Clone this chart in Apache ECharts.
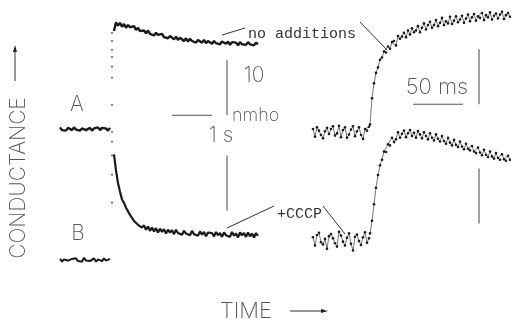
<!DOCTYPE html>
<html><head><meta charset="utf-8">
<script src="https://cdn.jsdelivr.net/npm/echarts@6/dist/echarts.min.js"></script>
<style>html,body{margin:0;padding:0;background:#fff}#c{width:511px;height:320px}</style>
</head><body><div id="c"></div>
<script>
// ---- Slow traces (left), time in s, conductance in nmho ----
const slowStep = 0.05;                 // s between samples
const slowBaseStart = 0;               // s
const slowJumpTime = 1.3;              // s
const slowDecayStart = 1.35;           // s
const traceA_slowBase = [0.3,-0.2,0.1,-0.3,0.2,0.0,-0.2,0.3,-0.1,0.2,-0.3,0.1,0.3,-0.2,0.0,0.2,-0.3,0.1,-0.1,0.3,-0.2,0.2,-0.1,0.1,-0.3,0.2];
const traceA_slowJump = [4.4,9.3,11.3,13.1,14.4,16.0,17.5];
const traceA_slowDecay = [17.8,19.4,18.8,19.3,18.6,19.1,18.4,18.9,18.5,18.3,18.7,18.0,18.4,17.8,18.1,17.9,17.4,17.9,17.3,17.6,17.0,17.5,17.1,16.9,17.3,16.7,17.0,16.5,16.9,16.6,16.3,16.8,16.2,16.6,16.3,16.0,16.5,15.9,16.4,16.0,16.2,15.7,16.2,15.9,15.7,16.2,15.6,16.0,15.7,15.5,16.0,15.6,15.9,15.4,15.9,15.7,15.5,15.9,15.3,15.8,15.5,15.7,15.2,15.8,15.4,15.6,15.3,15.8,15.4,15.6,15.2,15.7,15.4];
const traceB_slowBase = [0.2,-0.3,0.1,0.3,-0.1,-0.4,0.2,0.0,0.3,-0.2,0.1,-0.3,0.4,-0.1,0.2,-0.2,0.0,0.3,-0.3,0.1,0.2,-0.2,0.3,-0.1,0.0,0.2];
const traceB_slowJump = [10.4,15.5,19.0,21.5,23.3];
const traceB_slowDecay = [19.2,16.3,14.0,12.4,11.0,10.4,9.5,9.2,8.2,7.9,7.1,7.2,6.4,6.6,5.9,6.3,5.5,6.1,5.3,5.9,5.2,5.8,5.0,5.7,5.1,5.6,4.8,5.5,5.0,5.4,4.7,5.5,4.9,5.2,4.6,5.3,4.8,5.1,4.5,5.3,4.7,5.0,4.4,5.2,4.6,5.1,4.3,5.0,4.7,4.9,4.3,5.1,4.5,4.9,4.2,5.0,4.5,4.8,4.2,5.1,4.4,4.8,4.1,5.0,4.5,4.9,4.2,5.0,4.3,4.8,4.1,4.9,4.4];

// ---- Fast traces (right), time in ms ----
const fastStep = 2;                    // ms
const fastBaseStart = 3;               // ms
const fastRiseStart = 60;              // ms
const traceA_fastBase = [0.0,-1.4,0.3,-0.3,-1.1,-1.7,-0.4,0.2,-0.9,0.0,0.5,-1.2,-0.8,0.6,-1.5,-0.2,0.3,-1.6,-1.0,-0.1,0.5,-1.3,-0.4,0.3,-1.1,-1.8,0.0,-0.3,0.4];
const traceA_fastRise = [0.8,5.6,8.3,10.2,11.2,12.6,13.0,14.1,13.9,15.0,14.6,15.8,16.0,15.2,16.9,16.4,16.8,17.5,16.7,17.9,17.2,18.3,17.6,17.9,18.7,17.6,18.4,19.2,18.1,18.9,19.5,18.4,18.9,19.8,18.7,19.3,20.2,18.9,19.6,19.2,20.4,19.1,19.7,20.5,19.4,19.9,20.6,19.3,20.1,20.8,19.6,20.3,20.9,19.7,20.5,20.2,21.1,19.8,20.7,20.3,21.2,19.9,20.6,21.0,20.1,20.8,21.3,20.0,20.7,21.1,20.4];
const traceB_fastBase = [0.5,-1.0,0.9,1.3,-0.4,-0.8,0.2,-1.6,0.7,1.1,0.3,-0.6,-1.2,1.5,0.8,-0.3,-1.0,0.4,1.2,-0.7,-1.9,0.6,1.0,-0.2,-0.9,0.5,1.4,-0.5,0.3];
const traceB_fastRise = [1.2,3.5,6.5,9.5,11.8,13.6,14.6,16.1,16.0,17.4,17.2,18.6,17.8,18.3,19.6,18.6,19.3,19.9,18.7,19.4,20.0,18.9,19.5,18.6,19.8,19.2,18.5,19.6,18.9,18.3,19.4,18.6,18.1,19.2,18.4,17.9,18.9,18.0,17.5,18.6,17.7,17.2,18.2,17.3,16.9,17.9,17.0,16.5,17.5,16.6,16.3,17.1,16.1,15.8,16.8,15.9,15.4,16.4,15.5,15.1,16.1,15.2,14.8,15.8,14.9,14.6,15.6,14.7,14.4,15.3,14.6];

// ---- Scale bars ----
const scaleNmho = 10;
const scaleSlowS = 1;
const scaleFastMs = 50;

function seq(t0, dt, vals){ return vals.map((v,i)=>[+(t0+i*dt).toFixed(4), v]); }
function at(t, vals){ return vals.map(v=>[t, v]); }

const ink = '#1a1a1a', grey = '#555';
const fontBig = '200 21px Inter';
const fontMono = '400 15px "Liberation Mono"';

function traceLine(xi, data, w, sym){
  return {type:'line', xAxisIndex:xi, yAxisIndex:xi, data:data, clip:false, animation:false,
    showSymbol:!!sym, symbol:'circle', symbolSize:sym||0,
    itemStyle:{color:ink}, lineStyle:{color:ink, width:w}};
}
function dots(xi, data){
  return {type:'scatter', xAxisIndex:xi, yAxisIndex:xi, data:data, clip:false, animation:false,
    symbolSize:2, itemStyle:{color:'#333'}};
}
function bar(xi, p1, p2){
  return {type:'line', xAxisIndex:xi, yAxisIndex:xi, data:[p1,p2], clip:false, animation:false,
    showSymbol:false, lineStyle:{color:grey, width:1.1}};
}

const chart = echarts.init(document.getElementById('c'), null, {renderer:'canvas'});
const hid = {show:false};
chart.setOption({
  backgroundColor:'#fff',
  animation:false,
  grid:[
    {left:60, width:200, top:8, height:132},
    {left:60, width:200, top:117, height:154},
    {left:310, width:200, top:8, height:132},
    {left:310, width:200, top:119, height:132}
  ],
  xAxis:[
    Object.assign({type:'value', gridIndex:0, min:0, max:5}, hid),
    Object.assign({type:'value', gridIndex:1, min:0, max:5}, hid),
    Object.assign({type:'value', gridIndex:2, min:0, max:200}, hid),
    Object.assign({type:'value', gridIndex:3, min:0, max:200}, hid)
  ],
  yAxis:[
    Object.assign({type:'value', gridIndex:0, min:-2, max:22}, hid),
    Object.assign({type:'value', gridIndex:1, min:-2, max:26}, hid),
    Object.assign({type:'value', gridIndex:2, min:-2, max:22}, hid),
    Object.assign({type:'value', gridIndex:3, min:-2, max:22}, hid)
  ],
  series:[
    traceLine(0, seq(slowBaseStart, slowStep, traceA_slowBase), 2.4),
    dots(0, at(slowJumpTime, traceA_slowJump)),
    traceLine(0, seq(slowDecayStart, slowStep, traceA_slowDecay), 2.4),
    traceLine(1, seq(slowBaseStart, slowStep, traceB_slowBase), 2.0),
    dots(1, at(slowJumpTime, traceB_slowJump)),
    traceLine(1, seq(slowDecayStart, slowStep, traceB_slowDecay), 2.2),
    traceLine(2, seq(fastBaseStart, fastStep, traceA_fastBase), 0.6, 2.6),
    traceLine(2, seq(fastRiseStart, fastStep, traceA_fastRise), 0.6, 2.6),
    traceLine(3, seq(fastBaseStart, fastStep, traceB_fastBase), 0.6, 2.6),
    traceLine(3, seq(fastRiseStart, fastStep, traceB_fastRise), 0.6, 2.6),
    // scale bars
    bar(0, [4.175, 2.5], [4.175, 2.5+scaleNmho]),
    bar(0, [2.8, 2.5], [2.8+scaleSlowS, 2.5]),
    bar(1, [4.175, 9], [4.175, 9+scaleNmho]),
    bar(2, [169, 4.5], [169, 4.5+scaleNmho]),
    bar(2, [103, 4.5], [103+scaleFastMs, 4.5]),
    bar(3, [169, 3], [169, 3+scaleNmho])
  ],
  graphic:[
    {type:'text', x:77, y:105, style:{text:'A', font:fontBig, fill:grey, align:'center', verticalAlign:'middle'}},
    {type:'text', x:78, y:234, style:{text:'B', font:fontBig, fill:grey, align:'center', verticalAlign:'middle'}},
    {type:'text', x:254, y:76, style:{text:'10', font:fontBig, fill:grey, align:'center', verticalAlign:'middle'}},
    {type:'text', x:232, y:107, style:{text:'nmho', font:'200 18px Inter', fill:grey, align:'left', verticalAlign:'alphabetic'}},
    {type:'text', x:221, y:136, style:{text:'1 s', font:fontBig, fill:grey, align:'center', verticalAlign:'middle'}},
    {type:'text', x:437, y:87, style:{text:'50 ms', font:'200 22px Inter', fill:grey, align:'center', verticalAlign:'middle'}},
    {type:'text', x:248, y:27, style:{text:'no additions', font:fontMono, fill:'#333', align:'left', verticalAlign:'alphabetic'}},
    {type:'text', x:277, y:207, style:{text:'+CCCP', font:fontMono, fill:'#333', align:'left', verticalAlign:'alphabetic'}},
    {type:'text', x:19, y:178, rotation:Math.PI/2, style:{text:'CONDUCTANCE', font:'200 21px Inter', fill:grey, align:'center', verticalAlign:'middle'}},
    {type:'text', x:246, y:311, style:{text:'TIME', font:'200 22px Inter', fill:grey, align:'center', verticalAlign:'middle'}},
    // axis arrows
    {type:'line', shape:{x1:15, y1:81, x2:15, y2:50}, style:{stroke:'#333', lineWidth:1}},
    {type:'polygon', shape:{points:[[15,45],[13,52],[17,52]]}, style:{fill:'#222'}},
    {type:'line', shape:{x1:290, y1:311, x2:322, y2:311}, style:{stroke:'#333', lineWidth:1}},
    {type:'polygon', shape:{points:[[328,311],[321,309],[321,313]]}, style:{fill:'#222'}},
    // pointer lines
    {type:'line', shape:{x1:222, y1:35, x2:245, y2:28}, style:{stroke:'#333', lineWidth:1}},
    {type:'line', shape:{x1:360, y1:22, x2:387, y2:50}, style:{stroke:'#333', lineWidth:1}},
    {type:'line', shape:{x1:227, y1:228, x2:274, y2:206}, style:{stroke:'#333', lineWidth:1}},
    {type:'line', shape:{x1:323, y1:206, x2:345, y2:234}, style:{stroke:'#333', lineWidth:1}}
  ]
});
</script></body></html>
